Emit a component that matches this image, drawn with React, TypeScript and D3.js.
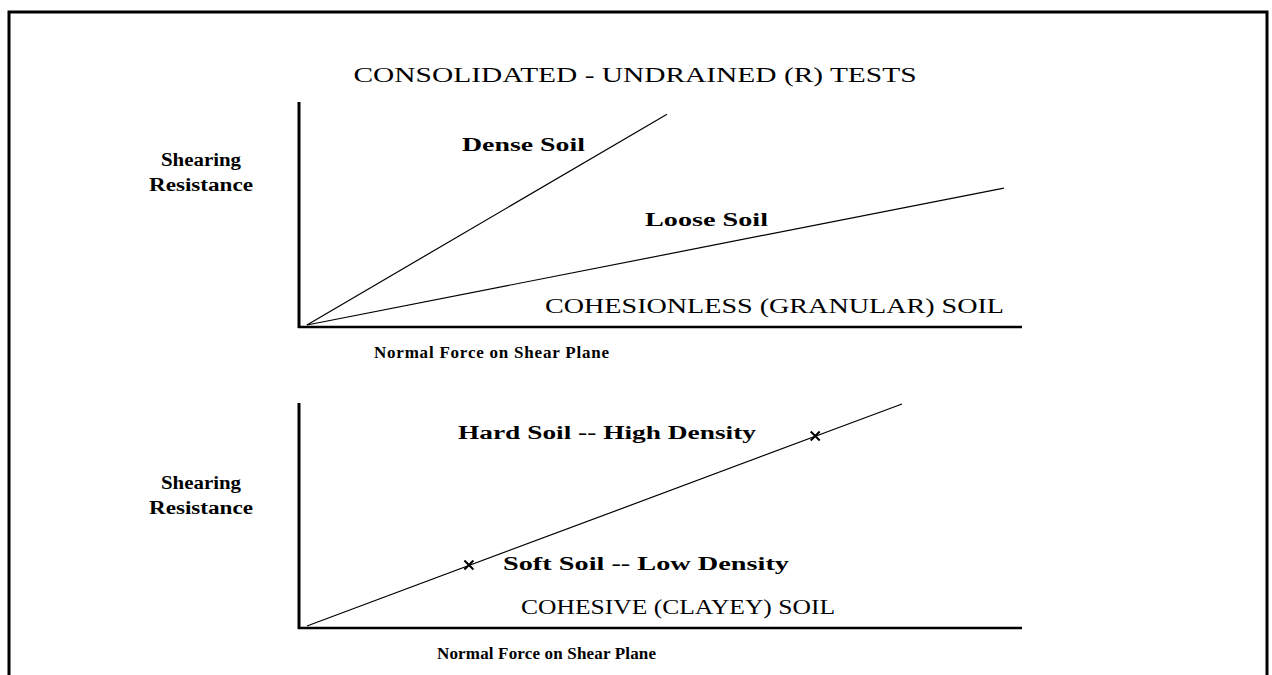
import React from "react";
import * as d3 from "d3";

// panel data (arbitrary 0-100 units)
const granularLines = [
  { name: "Dense Soil", points: [[1.1, 0.9], [50.9, 95]] },
  { name: "Loose Soil", points: [[1.1, 0.9], [97.5, 62]] },
];
const clayeyLine = [[1.1, 0.9], [83.4, 100]];
const clayeyMarks = [[23.5, 28.1], [71.4, 85.7]];

const title = "CONSOLIDATED - UNDRAINED (R) TESTS";
const yLabel = ["Shearing", "Resistance"];
const xLabel = "Normal Force on Shear Plane";

const W = 1272;
const H = 675;
const serif = "'Liberation Serif', 'Times New Roman', serif";

const Panel = ({ top, bottom, children }) => {
  const x = d3.scaleLinear().domain([0, 100]).range([299, 1022]);
  const y = d3.scaleLinear().domain([0, 100]).range([bottom, top]);
  return (
    <g>
      <line x1={x(0)} x2={x(0)} y1={y(0) + 1} y2={top - 1} stroke="#000" strokeWidth={3} />
      <line x1={x(0) - 1} x2={x(100)} y1={y(0)} y2={y(0)} stroke="#000" strokeWidth={2.5} />
      {children(x, y)}
    </g>
  );
};

const App = () => {
  const line = (x, y) => d3.line().x(d => x(d[0])).y(d => y(d[1]));
  const bold = { fontFamily: serif, fontWeight: "bold", fill: "#000" };
  const reg = { fontFamily: serif, fill: "#000" };

  const cross = (cx, cy, r = 4.5) =>
    `M${cx - r},${cy - r}L${cx + r},${cy + r}M${cx - r},${cy + r}L${cx + r},${cy - r}`;

  const axisTitle = (y0) => (
    <g>
      <text x={201} y={y0} textAnchor="middle" fontSize={18} textLength={80} lengthAdjust="spacingAndGlyphs" {...bold}>{yLabel[0]}</text>
      <text x={201} y={y0 + 25} textAnchor="middle" fontSize={18} textLength={104} lengthAdjust="spacingAndGlyphs" {...bold}>{yLabel[1]}</text>
    </g>
  );

  return (
    <>
      <style>{`body{margin:0}`}</style>
      <svg width={W} height={H} style={{ display: "block", background: "#fff" }}>
        <path d="M9,680V12H1267V680" fill="none" stroke="#000" strokeWidth={3} />

        <text x={635} y={82} textAnchor="middle" fontSize={20} textLength={563} lengthAdjust="spacingAndGlyphs" {...reg}>
          {title}
        </text>

        {/* top panel: cohesionless */}
        {axisTitle(166)}
        <Panel top={103} bottom={327}>
          {(x, y) => (
            <g>
              {granularLines.map(l => (
                <path key={l.name} d={line(x, y)(l.points)} fill="none" stroke="#000" strokeWidth={1.2} />
              ))}
            </g>
          )}
        </Panel>
        <text x={462} y={151} fontSize={18} textLength={123} lengthAdjust="spacingAndGlyphs" {...bold}>Dense Soil</text>
        <text x={645} y={226} fontSize={18} textLength={123} lengthAdjust="spacingAndGlyphs" {...bold}>Loose Soil</text>
        <text x={545} y={313} fontSize={20} textLength={459} lengthAdjust="spacingAndGlyphs" {...reg}>
          COHESIONLESS (GRANULAR) SOIL
        </text>
        <text x={374} y={358} fontSize={17} textLength={235} lengthAdjust="spacing" {...bold}>{xLabel}</text>

        {/* bottom panel: cohesive */}
        {axisTitle(489)}
        <Panel top={404} bottom={628}>
          {(x, y) => (
            <g>
              <path d={line(x, y)(clayeyLine)} fill="none" stroke="#000" strokeWidth={1.2} />
              {clayeyMarks.map((m, i) => (
                <path key={i} d={cross(x(m[0]), y(m[1]))} stroke="#000" strokeWidth={2} fill="none" />
              ))}
            </g>
          )}
        </Panel>
        <text x={458} y={439} fontSize={18} textLength={298} lengthAdjust="spacingAndGlyphs" {...bold}>
          Hard Soil -- High Density
        </text>
        <text x={503} y={570} fontSize={18} textLength={286} lengthAdjust="spacingAndGlyphs" {...bold}>
          Soft Soil -- Low Density
        </text>
        <text x={521} y={614} fontSize={20} textLength={314} lengthAdjust="spacingAndGlyphs" {...reg}>
          COHESIVE (CLAYEY) SOIL
        </text>
        <text x={437} y={659} fontSize={17} textLength={219} lengthAdjust="spacing" {...bold}>{xLabel}</text>
      </svg>
    </>
  );
};

export default App;
